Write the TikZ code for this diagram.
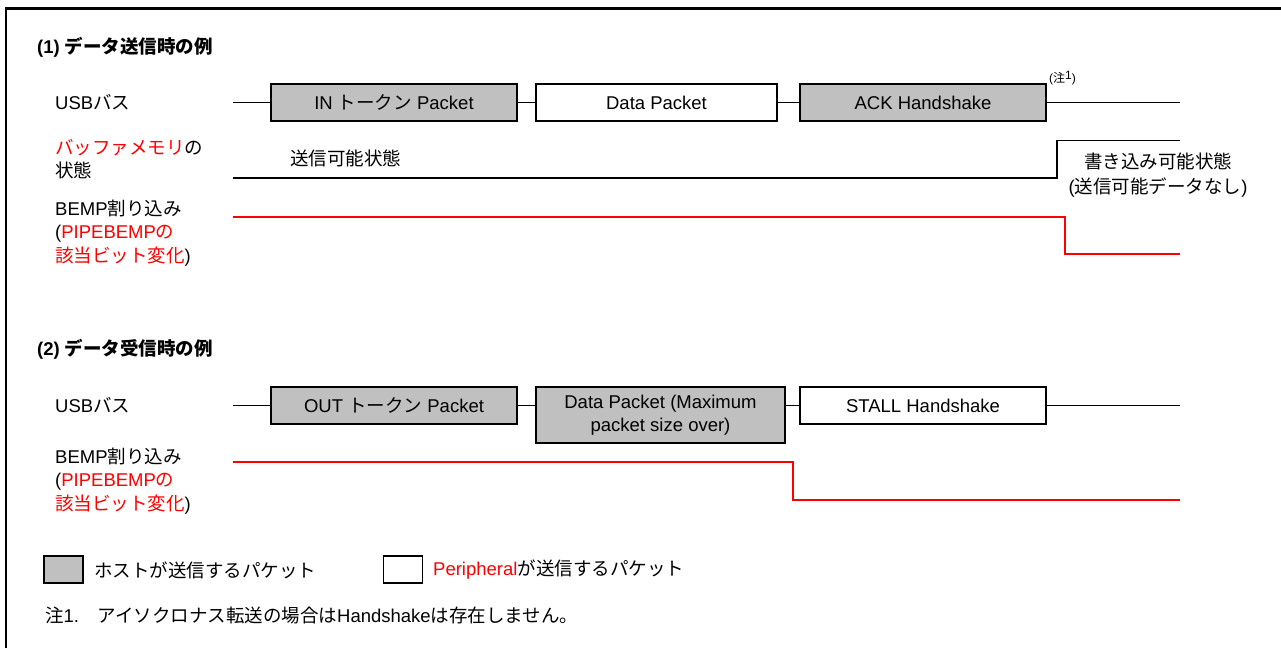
\documentclass[tikz,border=0pt]{standalone}
\usepackage{fontspec}
\setmainfont{Liberation Sans}
\newfontfamily\jp{Noto Sans CJK JP}
\newcommand{\J}[1]{{\jp #1}}
\definecolor{boxgray}{RGB}{192,192,192}
\definecolor{sigred}{RGB}{255,0,0}
\begin{document}
\begin{tikzpicture}[x=1pt,y=-1pt,
  every node/.style={font=\fontsize{18.5}{23.5}\selectfont, inner sep=0pt},
  pkt/.style={draw=black, line width=2pt, minimum height=37pt, align=center},
  host/.style={pkt, fill=boxgray},
  periph/.style={pkt, fill=white},
  bus/.style={line width=1.8pt, black},
  sig/.style={line width=2pt, sigred},
  lbl/.style={anchor=west, align=left},
  ttl/.style={anchor=west, font=\fontsize{18.5}{23}\selectfont\bfseries},
  legbox/.style={draw=black, line width=1.8pt, minimum width=39pt, minimum height=27pt},
]
\useasboundingbox (0,0) rectangle (1281,648);
\fill[white] (0,0) rectangle (1281,648);
% frame
\coordinate (fbl) at (6,648);
\coordinate (ftl) at (6,8.5);
\coordinate (ftr) at (1281,8.5);
\draw[line width=2.5pt] (fbl) -- (ftl) -- (ftr);

% ---------- (1) ----------
\node[ttl] (t1) at (37,47) {(1) \J{データ送信時の例}};
\node[lbl] (usb1) at (55,102.5) {USB\J{バス}};
\node[lbl] (buf1) at (55,159) {\textcolor{sigred}{\J{バッファメモリ}}\J{の}\\\J{状態}};
\node[lbl] (bemp1) at (55,233) {BEMP\J{割り込み}\\(\textcolor{sigred}{PIPEBEMP\J{の}}\\\textcolor{sigred}{\J{該当ビット変化}})};

\node[host, minimum width=246pt] (in) at (394,102.5) {IN \J{トークン} Packet};
\node[periph, minimum width=241pt] (dp) at (656.5,102.5) {Data Packet};
\node[host, minimum width=246pt] (ack) at (923,102.5) {ACK Handshake};
\node[anchor=west, font=\fontsize{12}{14}\selectfont] (n1) at (1049,78) {(\J{注}\raisebox{2.5pt}{1})};

\coordinate (b1s) at (233,102.5);
\coordinate (b1e) at (1180,102.5);
\draw[bus] (b1s) -- (in.west);
\draw[bus] (in.east) -- (dp.west);
\draw[bus] (dp.east) -- (ack.west);
\draw[bus] (ack.east) -- (b1e);

\node[anchor=west] (st1) at (290,158) {\J{送信可能状態}};
\node[align=center, font=\fontsize{18.5}{24.5}\selectfont] (st2) at (1158,175) {\J{書き込み可能状態}\\(\J{送信可能データなし})};
\coordinate (m1s) at (233,178);
\coordinate (m1e) at (1180,140.5);
\draw[bus] (m1s) -- ++(824,0) |- (m1e);

\coordinate (r1s) at (233,216.5);
\coordinate (r1e) at (1180,254);
\draw[sig] (r1s) -- ++(832,0) |- (r1e);

% ---------- (2) ----------
\node[ttl] (t2) at (37,349) {(2) \J{データ受信時の例}};
\node[lbl] (usb2) at (55,405.5) {USB\J{バス}};
\node[lbl] (bemp2) at (55,481) {BEMP\J{割り込み}\\(\textcolor{sigred}{PIPEBEMP\J{の}}\\\textcolor{sigred}{\J{該当ビット変化}})};

\node[host, minimum width=246pt] (out) at (394,405.5) {OUT \J{トークン} Packet};
\node[host, minimum width=249pt, minimum height=56pt] (dp2) at (660.5,415) {Data Packet (Maximum\\packet size over)};
\node[periph, minimum width=246pt] (stall) at (923,405.5) {STALL Handshake};

\coordinate (b2s) at (233,405.5);
\coordinate (b2e) at (1180,405.5);
\draw[bus] (b2s) -- (out.west);
\draw[bus] (out.east) -- (out.east -| dp2.west);
\draw[bus] (stall.west -| dp2.east) -- (stall.west);
\draw[bus] (stall.east) -- (b2e);

\coordinate (r2s) at (233,462);
\coordinate (r2e) at (1180,500);
\draw[sig] (r2s) -- ++(560,0) |- (r2e);

% ---------- legend ----------
\node[legbox, fill=boxgray] (lg1) at (63.5,569.5) {};
\node[anchor=west] (lt1) at (94,570) {\J{ホストが送信するパケット}};
\node[legbox, fill=white] (lg2) at (403,569.5) {};
\node[anchor=west] (lt2) at (433,570) {\textcolor{sigred}{Peripheral}\J{が送信するパケット}};
\node[anchor=west] (note) at (45,615) {\J{注}1.\J{　アイソクロナス転送の場合は}Handshake\J{は存在しません。}};
\end{tikzpicture}
\end{document}
